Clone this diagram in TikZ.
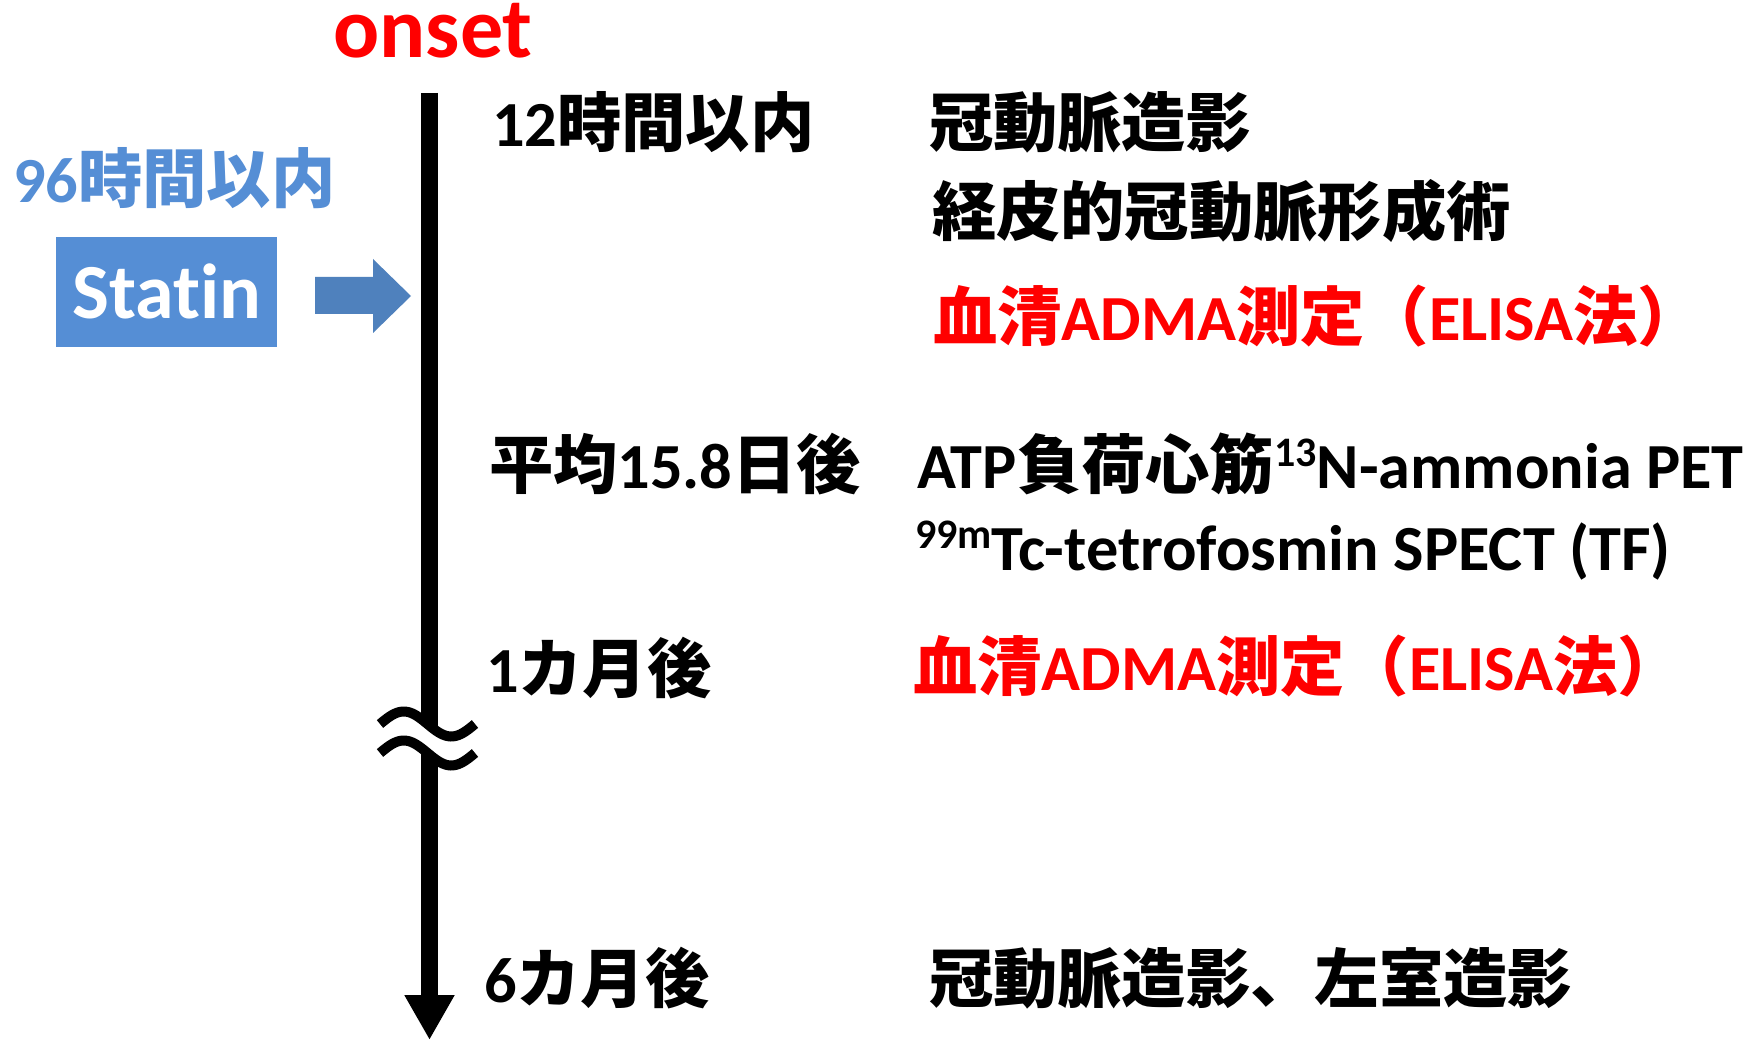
\documentclass[tikz,border=0pt]{standalone}
\usepackage{fontspec}
\setmainfont{Carlito}[Ligatures=NoCommon]
\newfontfamily\jpf{Noto Sans CJK JP}
\usetikzlibrary{arrows.meta}
\definecolor{statinblue}{RGB}{85,142,213}
\definecolor{arrowblue}{RGB}{79,129,189}
\newcommand\J[1]{{\jpf #1}}
\newcommand\supx[1]{\raisebox{0.33em}{\fontsize{42}{42}\selectfont #1}}
\begin{document}
\begin{tikzpicture}[x=1pt,y=-1pt,
  txt/.style={inner sep=0pt, outer sep=0pt, anchor=base west, font=\bfseries\fontsize{64.3}{64.3}\selectfont},
  axisline/.style={line width=17pt, -{Triangle[width=47pt,length=45pt]}},
  wave/.style={line width=10pt},
  statinbox/.style={fill=statinblue, minimum width=221pt, minimum height=110pt, inner sep=0pt}
  ]
\useasboundingbox (0,0) rectangle (1751,1040);
\fill[white] (0,0) rectangle (1751,1040);

% time axis
\coordinate (axtop) at (429.5,93);
\coordinate (axend) at (429.5,1040);
\draw[axisline] (axtop) -- (axend);

% break mark
\fill[white] plot[domain=380:475, samples=40] (\x, {724-12.5*sin((\x-380)*3.78947)})
  -- plot[domain=475:380, samples=40] (\x, {753-12.5*sin((\x-380)*3.78947)}) -- cycle;
\draw[wave] plot[domain=380:475, samples=40] (\x, {724-12.5*sin((\x-380)*3.78947)});
\draw[wave] plot[domain=380:475, samples=40] (\x, {753-12.5*sin((\x-380)*3.78947)});

% statin
\node[statinbox] (statin) at (166.5,292) {};
\node[txt, anchor=base, text=white, font=\bfseries\fontsize{78}{78}\selectfont] (statintxt) at (167,319) {Statin};
\fill[arrowblue] (315,277) -- (373,277) -- (373,259) -- (411,296) -- (373,333) -- (373,314) -- (315,314) -- cycle;
\node[txt, text=statinblue] (h96) at (13,203) {96\J{時間以内}};

% onset
\node[txt, text=red, anchor=base, font=\bfseries\fontsize{86}{86}\selectfont] (onset) at (433,58) {onset};

% events
\node[txt] (t12) at (492,147) {12\J{時間以内}};
\node[txt] (cag1) at (929,147) {\J{冠動脈造影}};
\node[txt] (pci) at (932,236) {\J{経皮的冠動脈形成術}};
\node[txt, text=red] (adma1) at (933,341) {\J{血清}ADMA\J{測定（}ELISA\J{法）}};
\node[txt] (t15) at (489,488) {\J{平均}15.8\J{日後}};
\node[txt] (pet) at (917,488) {ATP\J{負荷心筋}\supx{13}N-ammonia PET};
\node[txt] (spect) at (915,570) {\supx{99m}Tc-tetrofosmin SPECT (TF)};
\node[txt] (m1) at (486,692) {1\J{カ月後}};
\node[txt, text=red] (adma2) at (913,690) {\J{血清}ADMA\J{測定（}ELISA\J{法）}};
\node[txt] (m6) at (484,1002) {6\J{カ月後}};
\node[txt] (cag2) at (929,1002) {\J{冠動脈造影、左室造影}};
\end{tikzpicture}
\end{document}
